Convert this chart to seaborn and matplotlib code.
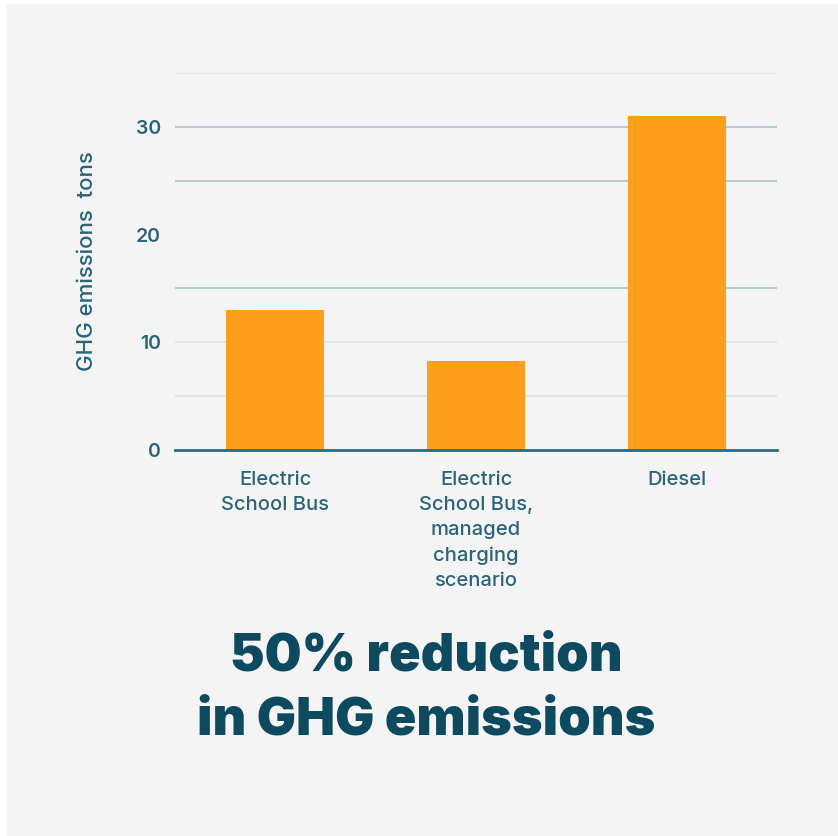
"""
plot.py
-------
GHG emissions of electric vs diesel school buses (bar chart + headline).
"""

import matplotlib
matplotlib.use("Agg")
import matplotlib.pyplot as plt
from matplotlib.patches import Rectangle
import pandas as pd
import seaborn as sns

# ---------------------------------------------------------------------------
# Data
# ---------------------------------------------------------------------------

CATEGORIES = [
    "Electric\nSchool Bus",
    "Electric\nSchool Bus,\nmanaged\ncharging\nscenario",
    "Diesel",
]
EMISSIONS = [13.0, 8.3, 31.0]          # tons

Y_TICKS = [0, 10, 20, 30]
GRID_LEVELS = [35, 30, 25, 15, 10, 5]   # gridlines as drawn in the original
Y_LABEL = "GHG emissions  tons"
HEADLINE = "50% reduction\nin GHG emissions"

# ---------------------------------------------------------------------------
# Style
# ---------------------------------------------------------------------------

BG = "#f4f4f4"
BAR = "#fe9f1b"
TEAL = "#2a6478"
DARK = "#0d4a5f"
GRID_DARK = "#b9cbd1"
GRID_LIGHT = "#dfe6e9"

sns.set_theme(style="white")
plt.rcParams["font.family"] = ["Inter", "DejaVu Sans"]

df = pd.DataFrame({"category": CATEGORIES, "tons": EMISSIONS})

fig = plt.figure(figsize=(8.38, 8.36), dpi=100, facecolor="white")
# grey card with a thin white margin top/left
fig.patches.append(Rectangle((7 / 838, 0), 1, 1 - 4 / 836, transform=fig.transFigure,
                             facecolor=BG, edgecolor="none", zorder=-10))

ax = fig.add_axes([175 / 838, 1 - 450 / 836, 602 / 838, 377 / 836])
ax.set_facecolor("none")
ax.set_zorder(1)

for lvl in GRID_LEVELS:
    c = GRID_DARK if lvl in (30, 25, 15) else GRID_LIGHT
    ax.axhline(lvl, color=c, lw=1.5, zorder=0)

sns.barplot(data=df, x="category", y="tons", hue="category",
            palette=[BAR] * len(CATEGORIES), legend=False,
            width=0.49, saturation=1, linewidth=0, ax=ax, zorder=2)

ax.set_xlim(-0.5, 2.5)
ax.set_ylim(0, 35)
ax.set_yticks(Y_TICKS)
ax.tick_params(axis="y", length=0, pad=10, labelsize=14, labelcolor=TEAL)
ax.tick_params(axis="x", length=0, pad=15, labelsize=14.5, labelcolor=TEAL)
for lbl in ax.get_xticklabels():
    lbl.set_linespacing(1.5)
    lbl.set_verticalalignment("top")
    lbl.set_fontweight("medium")
for lbl in ax.get_yticklabels():
    lbl.set_fontweight("semibold")

ax.set_xlabel("")
ax.set_ylabel(Y_LABEL, color=TEAL, fontsize=16, fontweight="medium", labelpad=28)

sns.despine(ax=ax, left=True, top=True, right=True)
ax.spines["bottom"].set_color("#2b6a7e")
ax.spines["bottom"].set_linewidth(2)
ax.spines["bottom"].set_zorder(3)

fig.text(426 / 838, 1 - 689 / 836, HEADLINE, ha="center", va="center",
         fontsize=37.5, fontweight=900, color=DARK, linespacing=1.4)

fig.savefig("out.png", dpi=100, facecolor=fig.get_facecolor())
